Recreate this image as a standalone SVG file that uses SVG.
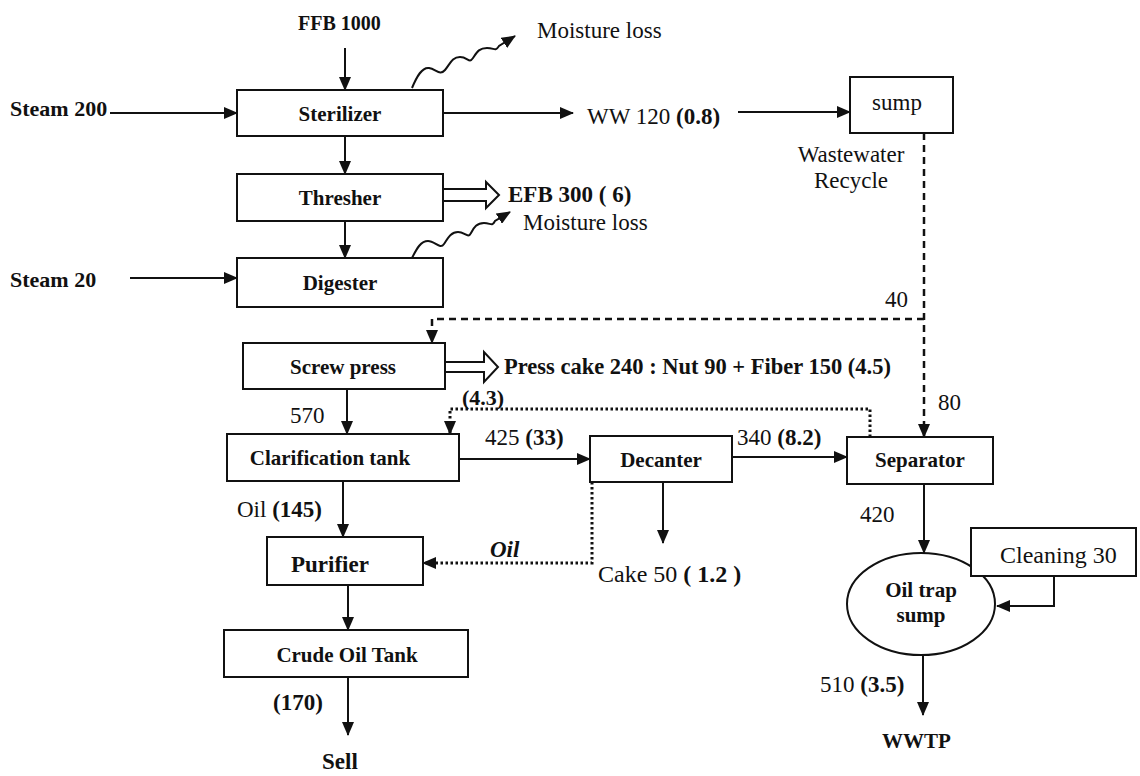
<svg xmlns="http://www.w3.org/2000/svg" width="1140" height="776" viewBox="0 0 1140 776">
<defs>
<marker id="ah" markerUnits="userSpaceOnUse" markerWidth="14" markerHeight="12" refX="13" refY="6" orient="auto">
<path d="M0,0 L14,6 L0,12 z" fill="#111"/>
</marker>
<style>
text{font-family:"Liberation Serif","Times New Roman",serif;fill:#111}
.b{font-weight:bold}
.i{font-style:italic}
.box{fill:#fff;stroke:#111;stroke-width:2}
.ln{fill:none;stroke:#111;stroke-width:2}
.dash{fill:none;stroke:#111;stroke-width:2.5;stroke-dasharray:7 5}
.dot{fill:none;stroke:#111;stroke-width:3;stroke-dasharray:2.5 2.5}
.lbl{font-size:21px;font-weight:bold;text-anchor:middle}
.t{font-size:23px}
.m{text-anchor:middle}
</style>
</defs>
<rect width="1140" height="776" fill="#fff"/>

<g id="connectors">
<path class="ln" d="M345,48 V90" marker-end="url(#ah)"/>
<path class="ln" d="M110,113 H237" marker-end="url(#ah)"/>
<path class="ln" d="M345,136 V174" marker-end="url(#ah)"/>
<path class="ln" d="M345,221 V258" marker-end="url(#ah)"/>
<path class="ln" d="M130,278 H237" marker-end="url(#ah)"/>
<path class="ln" d="M443,113 H573" marker-end="url(#ah)"/>
<path class="ln" d="M738,112 H850" marker-end="url(#ah)"/>
<path class="ln" d="M412,88 C417,76 422,67 429,68 S440,76 445,70 S452,57 460,57 S469,64 473,58 S479,48 487,48 S495,52 499,46 L515,36" marker-end="url(#ah)"/>
<path class="ln" d="M412,258 C417,248 421,241 428,241 S440,250 444,244 S451,232 458,232 S468,239 471,233 S477,223 484,223 S492,227 495,221 L510,212" marker-end="url(#ah)"/>
<polygon class="box" points="443,189 486,189 486,182 499,195 486,208 486,201 443,201"/>
<polygon class="box" points="445,362 484,362 484,352 498,367 484,382 484,372 445,372"/>
<path class="dash" d="M924,133 V437" marker-end="url(#ah)"/>
<path class="dash" d="M924,319 H432 V343" marker-end="url(#ah)"/>
<path class="ln" d="M347,389 V434" marker-end="url(#ah)"/>
<path class="dot" d="M870,437 V409 H450 V434" marker-end="url(#ah)"/>
<path class="ln" d="M459,459 H590" marker-end="url(#ah)"/>
<path class="ln" d="M732,457 H847" marker-end="url(#ah)"/>
<path class="ln" d="M663,482 V543" marker-end="url(#ah)"/>
<path class="dot" d="M592,482 V563 H423" marker-end="url(#ah)"/>
<path class="ln" d="M343,481 V537" marker-end="url(#ah)"/>
<path class="ln" d="M348,585 V630" marker-end="url(#ah)"/>
<path class="ln" d="M348,677 V735" marker-end="url(#ah)"/>
<path class="ln" d="M924,484 V553" marker-end="url(#ah)"/>
<path class="ln" d="M923,655 V715" marker-end="url(#ah)"/>
</g>

<g id="sterilizer"><rect class="box" x="237" y="90" width="206" height="46"/><text class="lbl" x="340" y="121">Sterilizer</text></g>
<g id="thresher"><rect class="box" x="237" y="174" width="206" height="47"/><text class="lbl" x="340" y="205">Thresher</text></g>
<g id="digester"><rect class="box" x="237" y="258" width="206" height="49"/><text class="lbl" x="340" y="290">Digester</text></g>
<g id="screw-press"><rect class="box" x="243" y="343" width="202" height="46"/><text class="lbl" x="343" y="374">Screw press</text></g>
<g id="clarification-tank"><rect class="box" x="227" y="434" width="232" height="47"/><text class="lbl" x="330" y="465">Clarification tank</text></g>
<g id="decanter"><rect class="box" x="590" y="436" width="142" height="46"/><text class="lbl" x="661" y="467">Decanter</text></g>
<g id="separator"><rect class="box" x="847" y="437" width="146" height="47"/><text class="lbl" x="920" y="467">Separator</text></g>
<g id="purifier"><rect class="box" x="267" y="537" width="156" height="48"/><text class="b" x="291" y="572" style="font-size:23px">Purifier</text></g>
<g id="crude-oil-tank"><rect class="box" x="224" y="630" width="244" height="47"/><text class="lbl" x="347" y="662">Crude Oil Tank</text></g>
<g id="sump"><rect class="box" x="850" y="77" width="103" height="56"/><text class="t m" x="897" y="110">sump</text></g>
<g id="oil-trap-sump"><ellipse class="box" cx="921" cy="604" rx="74" ry="51"/><text class="lbl" x="921" y="597">Oil trap</text><text class="lbl" x="921" y="622">sump</text></g>
<g id="cleaning"><rect class="box" x="971" y="528" width="165" height="48"/><text class="t" x="1000" y="563" style="font-size:24px">Cleaning 30</text>
<path class="ln" d="M1054,576 V606 H997" marker-end="url(#ah)"/></g>

<g id="labels">
<text class="b" x="298" y="30" style="font-size:20px">FFB 1000</text>
<text class="t" x="537" y="38">Moisture loss</text>
<text class="b" x="10" y="116" style="font-size:22px">Steam 200</text>
<text class="t" x="587" y="124">WW 120 <tspan class="b">(0.8)</tspan></text>
<text class="t m" x="851" y="162">Wastewater</text>
<text class="t m" x="851" y="188">Recycle</text>
<text class="b" x="508" y="202" style="font-size:23px">EFB 300 ( 6)</text>
<text class="t" x="523" y="230">Moisture loss</text>
<text class="b" x="10" y="287" style="font-size:22px">Steam 20</text>
<text class="t" x="885" y="307">40</text>
<text class="b" x="504" y="374" style="font-size:22.5px">Press cake 240 : Nut 90 + Fiber 150 (4.5)</text>
<text class="t" x="290" y="423">570</text>
<text class="b" x="462" y="405" style="font-size:22px">(4.3)</text>
<text class="t" x="938" y="410">80</text>
<text class="t" x="485" y="445">425 <tspan class="b">(33)</tspan></text>
<text class="t" x="737" y="445">340 <tspan class="b">(8.2)</tspan></text>
<text class="t" x="237" y="517">Oil  <tspan class="b">(145)</tspan></text>
<text class="t" x="860" y="522">420</text>
<text class="b i" x="490" y="557" style="font-size:23px">Oil</text>
<text class="t" x="598" y="582" style="font-size:24px">Cake 50 <tspan class="b">( 1.2 )</tspan></text>
<text class="t" x="820" y="692">510 <tspan class="b">(3.5)</tspan></text>
<text class="b" x="273" y="710" style="font-size:23px">(170)</text>
<text class="b" x="882" y="748" style="font-size:21px">WWTP</text>
<text class="b" x="322" y="769" style="font-size:23px">Sell</text>
</g>
</svg>
